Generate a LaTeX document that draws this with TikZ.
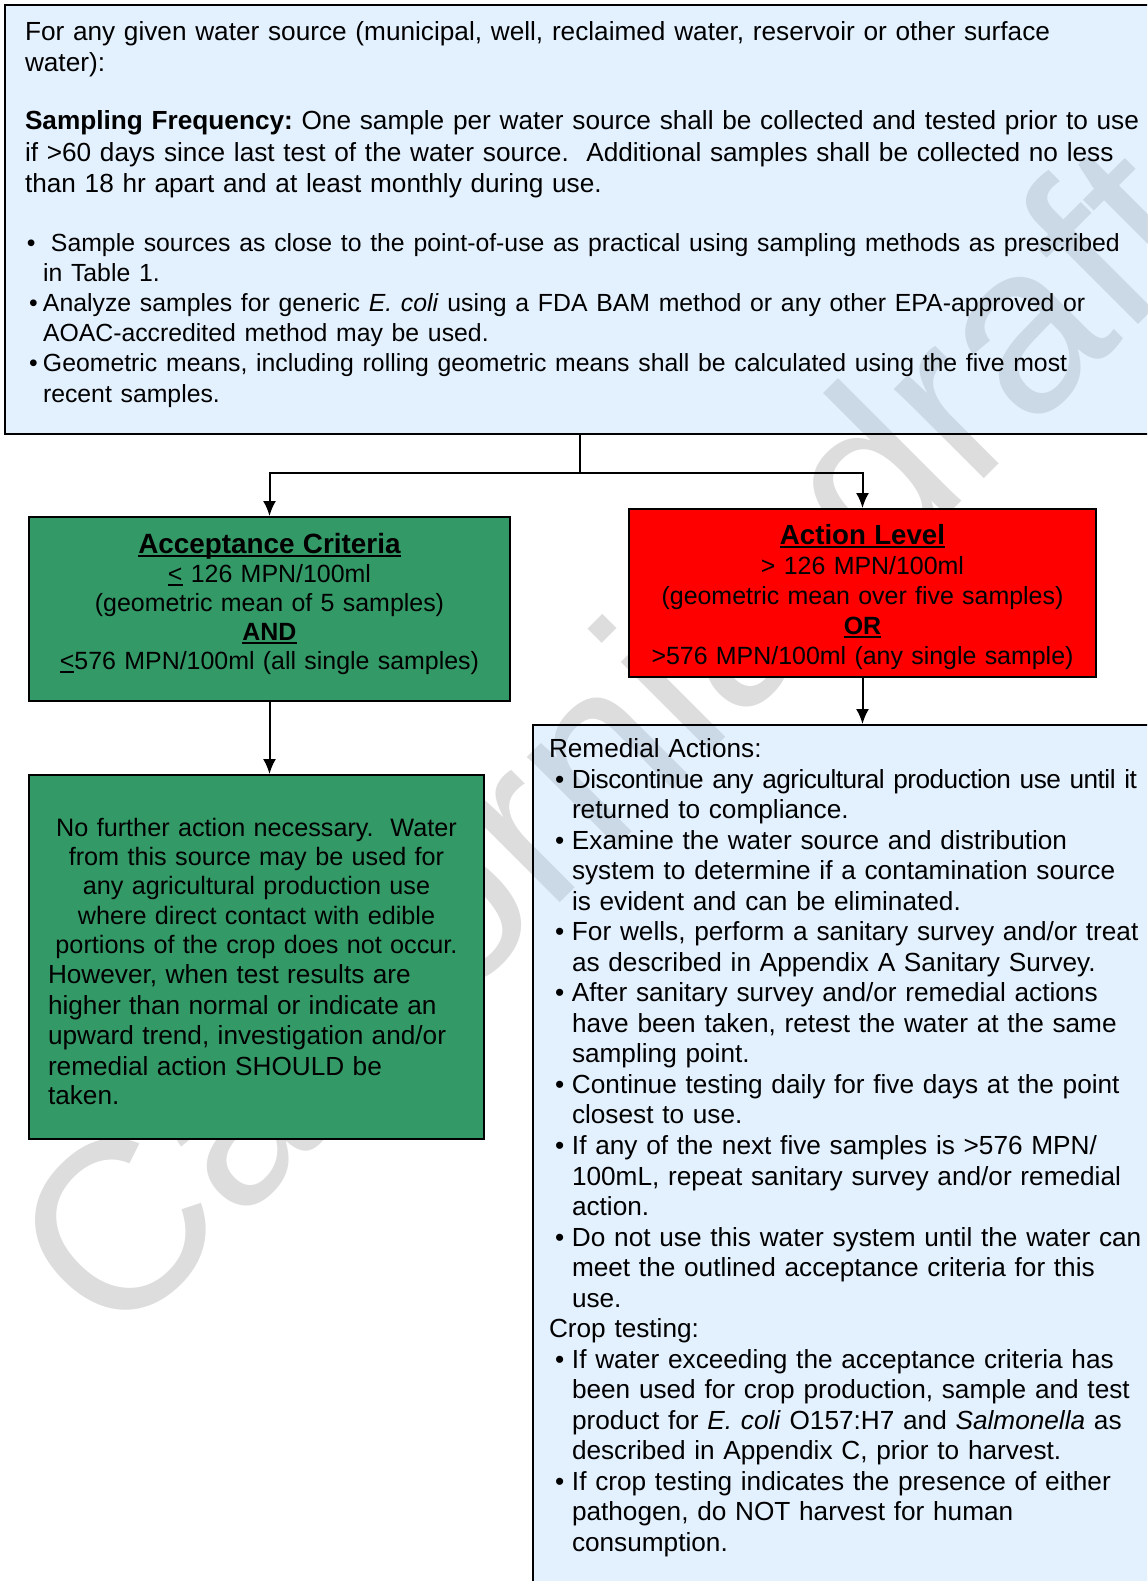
\documentclass[tikz,border=0pt]{standalone}
\usepackage{fontspec}
\setmainfont{Liberation Sans}
\usetikzlibrary{positioning, arrows.meta}

\newdimen\pxu
\pxu=0.75pt

\definecolor{srcblue}{RGB}{162,205,252}
\definecolor{passgreen}{RGB}{51,153,102}
\definecolor{failred}{RGB}{255,0,0}
\definecolor{markgray}{RGB}{221,221,221}

\newcommand{\ulbox}[1]{\leavevmode\setbox0\hbox{#1}\rlap{\rule[-3.5\pxu]{\wd0}{1.6\pxu}}\box0\relax}
\newcommand{\firstline}[1]{\rule{0pt}{#1\pxu}}
\newcommand{\lastline}[1]{\rule[-#1\pxu]{0pt}{0pt}}
\newcommand{\srcfirst}{\hspace*{2\pxu}\makebox[24\pxu][l]{\textbullet}}
\newcommand{\srcbul}{\hspace*{4\pxu}\makebox[14\pxu][l]{\textbullet}}
\newcommand{\srcind}{\hspace*{18\pxu}}
\newcommand{\rembul}{\hspace*{6\pxu}\makebox[17\pxu][l]{\textbullet}}
\newcommand{\remind}{\hspace*{23\pxu}}
\newcommand{\bigtext}{\fontsize{19.65}{22.9}\selectfont}

\begin{document}
\frenchspacing
\begin{tikzpicture}[x=0.75pt, y=-0.75pt]

    \tikzstyle{block} = [draw, rectangle, line width=1.5pt, anchor=north west, inner ysep=0pt]
    \tikzstyle{line} = [draw, line width=1.5pt, ->, >={Latex[length=11.25pt, width=9.75pt]}]

    \useasboundingbox (0,0) rectangle (1147,1581);
    \clip (0,0) rectangle (1147,1581);

    % Watermark
    \node[markgray, rotate=45, font=\fontsize{180}{180}\selectfont] (mark) at (606,736) {California draft};

    % Water source
    \node[block, fill=srcblue, fill opacity=0.3, text opacity=1,
          minimum width=1170\pxu, minimum height=429\pxu, inner xsep=20\pxu,
          text width=1130\pxu, align=left, font=\fontsize{19.65}{23.4}\selectfont] (source) at (4,4) {%
        \firstline{22}For any given water source (municipal, well, reclaimed water, reservoir or other surface\\
        water):\\[20.5pt]
        \textbf{Sampling Frequency:} One sample per water source shall be collected and tested prior to use\\
        if >60 days since last test of the water source.\ \ Additional samples shall be collected no less\\
        than 18 hr apart and at least monthly during use.\\[22.1pt]
        \fontsize{18.6}{22.5}\selectfont
        \srcfirst Sample sources as close to the point-of-use as practical using sampling methods as prescribed\\
        \srcind in Table 1.\\
        \srcbul Analyze samples for generic \textit{E. coli} using a FDA BAM method or any other EPA-approved or\\
        \srcind AOAC-accredited method may be used.\\
        \srcbul Geometric means, including rolling geometric means shall be calculated using the five most\\
        \srcind recent samples.\lastline{18}};

    % Acceptance Criteria
    \node[block, fill=passgreen, minimum width=481\pxu, minimum height=184\pxu, inner xsep=10\pxu,
          text width=461\pxu, align=center, font=\fontsize{18.7}{21.75}\selectfont] (accept) at (28,516) {%
        \firstline{26}{\fontsize{20.9}{21.75}\selectfont\ulbox{\textbf{Acceptance Criteria}}}\\
        \ulbox{<} 126 MPN/100ml\\
        (geometric mean of 5 samples)\\
        \ulbox{\textbf{AND}}\\
        \ulbox{<}576 MPN/100ml (all single samples)\lastline{22}};

    % No further action
    \node[block, fill=passgreen, minimum width=455\pxu, minimum height=364\pxu, inner xsep=19\pxu,
          text width=417\pxu, align=left, font=\fontsize{18.9}{21.9}\selectfont,
          below=54pt of accept.south west, anchor=north west] (nofurther) {%
        \firstline{42}\makebox[417\pxu][c]{No further action necessary.\ \ Water}\\
        \makebox[417\pxu][c]{from this source may be used for}\\
        \makebox[417\pxu][c]{any agricultural production use}\\
        \makebox[417\pxu][c]{where direct contact with edible}\\
        \makebox[417\pxu][c]{portions of the crop does not occur.}\\
        \bigtext
        However, when test results are\\
        higher than normal or indicate an\\
        upward trend, investigation and/or\\
        remedial action SHOULD be\\
        taken.\lastline{15}};

    % Action Level
    \node[block, fill=failred, minimum width=467\pxu, minimum height=168\pxu, inner xsep=10\pxu,
          text width=447\pxu, align=center, font=\fontsize{18.7}{22.5}\selectfont] (action) at (628,508) {%
        \firstline{32}{\fontsize{20.75}{22.5}\selectfont\ulbox{\textbf{Action Level}}}\\
        > 126 MPN/100ml\\
        (geometric mean over five samples)\\
        \ulbox{\textbf{OR}}\\
        >576 MPN/100ml (any single sample)\lastline{10}};

    % Remedial Actions
    \node[block, fill=srcblue, fill opacity=0.3, text opacity=1,
          minimum width=658\pxu, minimum height=876\pxu, inner xsep=16\pxu,
          text width=626\pxu, align=left, font=\bigtext] (remedial) at (532,724) {%
        \firstline{22}Remedial Actions:\\
        \rembul{\addfontfeature{LetterSpace=-2.0}Discontinue any agricultural production use until it}\\
        \remind returned to compliance.\\
        \rembul Examine the water source and distribution\\
        \remind system to determine if a contamination source\\
        \remind is evident and can be eliminated.\\
        \rembul For wells, perform a sanitary survey and/or treat\\
        \remind as described in Appendix A Sanitary Survey.\\
        \rembul After sanitary survey and/or remedial actions\\
        \remind have been taken, retest the water at the same\\
        \remind sampling point.\\
        \rembul Continue testing daily for five days at the point\\
        \remind closest to use.\\
        \rembul If any of the next five samples is >576 MPN/\\
        \remind 100mL, repeat sanitary survey and/or remedial\\
        \remind action.\\
        \rembul Do not use this water system until the water can\\
        \remind meet the outlined acceptance criteria for this\\
        \remind use.\\
        Crop testing:\\
        \rembul If water exceeding the acceptance criteria has\\
        \remind been used for crop production, sample and test\\
        \remind product for \textit{E. coli} O157:H7 and \textit{Salmonella} as\\
        \remind described in Appendix C, prior to harvest.\\
        \rembul If crop testing indicates the presence of either\\
        \remind pathogen, do NOT harvest for human\\
        \remind consumption.\lastline{39}};

    % Connect the boxes
    \coordinate (fork) at (580,473);
    \draw[line] (source.south -| fork) -- (fork) -| (accept.north);
    \draw[line] (fork) -| (action.north);
    \draw[line] (accept.south) -- (accept.south |- nofurther.north);
    \draw[line] (action.south) -- (action.south |- remedial.north);

\end{tikzpicture}
\end{document}
